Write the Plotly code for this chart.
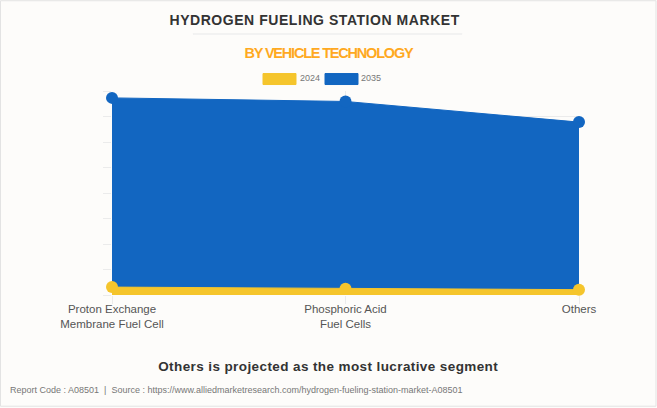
import plotly.graph_objects as go

W = 657
H = 408

categories = ['Proton Exchange<br>Membrane Fuel Cell', 'Phosphoric Acid<br>Fuel Cells', 'Others']
years = ['2024', '2035']
values_2024 = [0.31, 0.25, 0.21]
values_2035 = [7.73, 7.59, 6.78]
y_ticks = [0, 1, 2, 3, 4, 5, 6, 7, 8]

yellow = '#F5C52C'
blue = '#1266C1'
font = 'Liberation Sans'

# pixels to paper coords, plot area is 112-579 / 91-295.5
L, R, T, B = 112, 579, 91, 295.5


def px_x(x):
    return (x - L) / (R - L)


def px_y(y):
    return (B - y) / (B - T)


def label(x, y, text, size, color, bold=False, anchor='center'):
    if bold:
        text = '<b>' + text + '</b>'
    fig.add_annotation(x=px_x(x), y=px_y(y), xref='paper', yref='paper', text=text, showarrow=False,
                       xanchor=anchor, yanchor='middle', font=dict(size=size, color=color, family=font))


def box(x0, y0, x1, y1, fill, line=None):
    fig.add_shape(type='rect', xref='paper', yref='paper', x0=px_x(x0), x1=px_x(x1), y0=px_y(y0), y1=px_y(y1),
                  fillcolor=fill, line=dict(color=line or fill, width=1), layer='below')


fig = go.Figure()

# 2035 first so the 2024 area sits over it
fig.add_trace(go.Scatter(x=categories, y=values_2035, name=years[1], mode='lines+markers', fill='tozeroy',
                         fillcolor=blue, line=dict(color=blue, width=1), marker=dict(color=blue, size=12),
                         cliponaxis=False))
fig.add_trace(go.Scatter(x=categories, y=values_2024, name=years[0], mode='lines+markers', fill='tozeroy',
                         fillcolor=yellow, line=dict(color=yellow, width=1), marker=dict(color=yellow, size=12),
                         cliponaxis=False))

fig.update_layout(
    width=W, height=H, margin=dict(l=L, r=W - R, t=T, b=H - B, autoexpand=False),
    paper_bgcolor='#FDFCFA', plot_bgcolor='#FDFCFA', showlegend=False,
    font=dict(family=font, color='#555555'),
)
fig.update_xaxes(type='category', range=[0, 2], showgrid=True, gridcolor='#EBEBEB', gridwidth=1, ticks='outside',
                 ticklen=8, tickcolor='#EBEBEB', tickfont=dict(size=11.5, color='#555555'), showline=False,
                 zeroline=False, tickangle=0, ticklabelstandoff=-5)
fig.update_yaxes(range=[0, 8], tickvals=y_ticks, showticklabels=False, showgrid=True, gridcolor='#EBEBEB', gridwidth=1,
                 ticks='outside', ticklen=8, tickcolor='#EBEBEB', zeroline=False, showline=False)

# outer frame and title rule
box(0.5, 0.5, W - 1, H - 1, 'rgba(0,0,0,0)', '#E3E3E3')
box(193, 33.5, 462, 34, '#F0F0F0')

label(314.5, 20, 'HYDROGEN FUELING STATION MARKET', 14, '#333333', bold=True)
label(328, 53, 'BY VEHICLE TECHNOLOGY', 14.5, '#FFA91F', bold=True)

# legend
box(263, 73.5, 296, 84.5, yellow)
label(298, 78, years[0], 9, '#777777', anchor='left')
box(325, 73.5, 358, 84.5, blue)
label(359, 78, years[1], 9, '#777777', anchor='left')

label(328, 367, 'Others is projected as the most lucrative segment', 13.5, '#333333', bold=True)
label(8, 390.5, 'Report Code : A08501  |  Source : https://www.alliedmarketresearch.com/hydrogen-fueling-station-market-A08501',
      9, '#777777', anchor='left')

# plotly has no letter spacing, and the page has a default 8px body margin
post = """
document.body.style.margin = '0';
var spacing = {'HYDROGEN': '0.55px', 'BY VEHICLE': '-1.2px', 'Others is': '0.4px'};
document.querySelectorAll('.annotation-text').forEach(function (t) {
    Object.keys(spacing).forEach(function (k) {
        if (t.textContent.startsWith(k)) { t.style.letterSpacing = spacing[k]; }
    });
});
"""
fig.write_html("out.html", post_script=post, config=dict(displayModeBar=False))
